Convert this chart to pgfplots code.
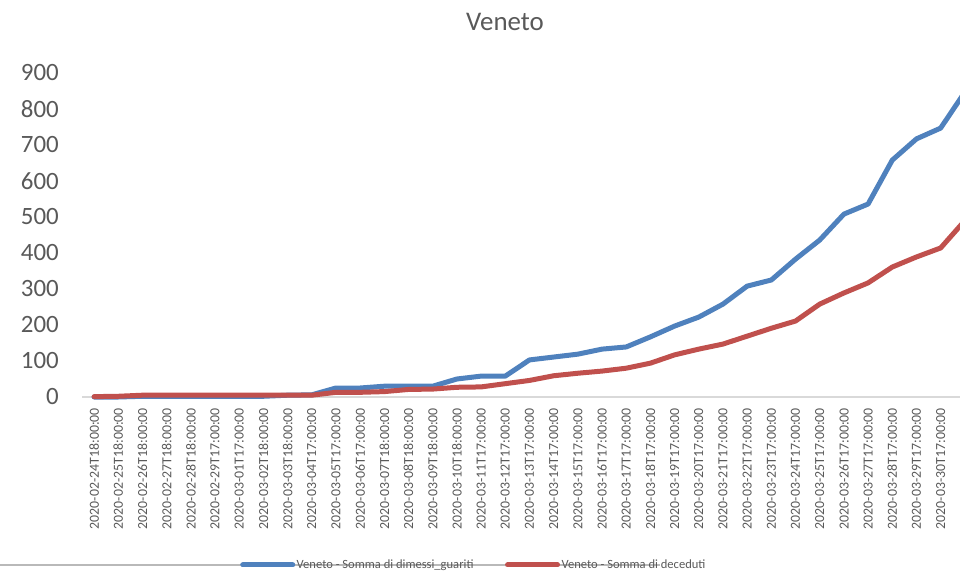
\documentclass[border=0pt]{standalone}
\usepackage{pgfplots}
\pgfplotsset{compat=1.18}
\usepackage{pgfplotstable}
\usepackage{fontspec}
\setmainfont{Carlito}
\definecolor{txtgray}{HTML}{595959}
\definecolor{axgray}{HTML}{D9D9D9}
\definecolor{sblue}{HTML}{4F81BD}
\definecolor{sred}{HTML}{C0504D}
\pgfplotstableread{
idx blue red
0 0 1
1 0 2
2 2 5
3 2 5
4 2 5
5 2 5
6 2 5
7 2 5
8 5 5
9 6 5
10 25 13
11 25 13
12 30 15
13 30 21
14 30 22
15 50 27
16 58 28
17 58 37
18 103 46
19 111 59
20 119 66
21 133 72
22 139 80
23 167 94
24 197 117
25 222 133
26 258 147
27 308 169
28 325 191
29 383 211
30 436 258
31 508 289
32 536 317
33 658 361
34 717 389
35 747 414
36 847 490
}\datatable
\begin{document}
\begin{tikzpicture}
\draw[gray!55, line width=1.2bp] (0bp,6bp) -- (660bp,6bp);
\node[text=txtgray, font=\fontsize{27}{30}\selectfont] at (505bp,549bp) {Veneto};
\begin{axis}[
  at={(82bp,174bp)}, anchor=south west,
  scale only axis, width=878bp, height=324bp,
  xmin=-0.5, xmax=35.8, ymin=0, ymax=900,
  clip=false,
  axis line style={draw=none},
  tick style={draw=none},
  ytick={0,100,...,900},
  yticklabel style={font=\fontsize{25}{28}\selectfont, text=txtgray, inner sep=0pt, anchor=east},
  yticklabel shift=23bp,
  /pgf/number format/assume math mode=true,
  xtick={0,...,35},
  xticklabels={2020-02-24T18:00:00,2020-02-25T18:00:00,2020-02-26T18:00:00,2020-02-27T18:00:00,2020-02-28T18:00:00,2020-02-29T17:00:00,2020-03-01T17:00:00,2020-03-02T18:00:00,2020-03-03T18:00:00,2020-03-04T17:00:00,2020-03-05T17:00:00,2020-03-06T17:00:00,2020-03-07T18:00:00,2020-03-08T18:00:00,2020-03-09T18:00:00,2020-03-10T18:00:00,2020-03-11T17:00:00,2020-03-12T17:00:00,2020-03-13T17:00:00,2020-03-14T17:00:00,2020-03-15T17:00:00,2020-03-16T17:00:00,2020-03-17T17:00:00,2020-03-18T17:00:00,2020-03-19T17:00:00,2020-03-20T17:00:00,2020-03-21T17:00:00,2020-03-22T17:00:00,2020-03-23T17:00:00,2020-03-24T17:00:00,2020-03-25T17:00:00,2020-03-26T17:00:00,2020-03-27T17:00:00,2020-03-28T17:00:00,2020-03-29T17:00:00,2020-03-30T17:00:00},
  xticklabel style={font=\fontsize{13.9}{15}\selectfont, text=txtgray, rotate=90, anchor=east, inner sep=0pt},
  xticklabel shift=11bp,
  legend columns=2,
  legend style={at={(axis description cs:0.18,-0.5185)}, anchor=west, draw=none, fill=none,
    font=\fontsize{12.6}{14}\selectfont, text=txtgray, inner sep=0pt,
    nodes={inner sep=1.5bp},
    /tikz/every even column/.append style={column sep=30bp}},
  legend cell align=left,
  legend image code/.code={\draw[#1, line width=5bp, line cap=round] (0bp,0bp) -- (50bp,0bp);},
]
\draw[axgray, line width=1.3bp] (axis cs:-0.5,0) -- (axis cs:35.8,0);
\addplot[sblue, line width=5bp, line join=round, line cap=round] table[x=idx, y=blue] {\datatable};
\addlegendentry{Veneto - Somma di dimessi\_guariti}
\addplot[sred, line width=5bp, line join=round, line cap=round] table[x=idx, y=red] {\datatable};
\addlegendentry{Veneto - Somma di deceduti}
\end{axis}
\pgfresetboundingbox
\useasboundingbox (0bp,0bp) rectangle (960bp,571bp);
\end{tikzpicture}
\end{document}
